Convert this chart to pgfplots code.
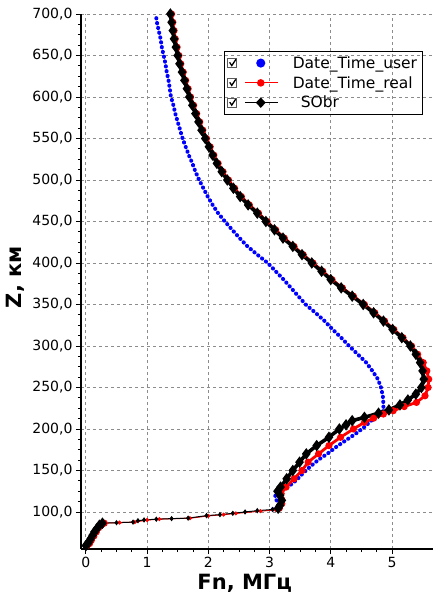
\documentclass[border=0pt]{standalone}
\usepackage{fontspec}
\setmainfont{DejaVu Sans}
\usepackage{pgfplots}
\pgfplotsset{compat=1.18}
\newcommand\chkbox{%
  \draw[solid, gray!70!black, line width=0.6pt, fill=white] (0pt,-4.5pt) rectangle (9pt,4.5pt);
  \draw[solid, black, line width=1.3pt] (2pt,0.5pt) -- (4pt,-2.5pt) -- (8pt,3.5pt);
  \path (61pt,0pt);}
\begin{document}
\begin{tikzpicture}
\begin{axis}[
  name=ax, scale only axis, width=352pt, height=535pt,
  xmin=-0.08, xmax=5.67, ymin=55.4, ymax=700,
  axis x line*=bottom, axis y line*=left,
  axis line style={line width=2.4pt},
  xtick={0,1,2,3,4,5}, ytick={100,150,...,700},
  minor x tick num=3, minor y tick num=3,
  tick align=outside,
  major tick length=5pt, minor tick length=3pt,
  every tick/.style={black, line width=0.8pt},
  grid=major,
  major grid style={gray!90, line width=0.9pt, dash pattern=on 3pt off 3pt},
  tick label style={font=\fontsize{14}{16}\selectfont},
  /pgf/number format/assume math mode=true,
  yticklabel style={/pgf/number format/fixed, /pgf/number format/fixed zerofill,
    /pgf/number format/precision=1, /pgf/number format/use comma},
  xlabel={Fn, МГц}, ylabel={Z, км},
  label style={font=\bfseries\fontsize{21}{24}\selectfont},
  xlabel style={at={(axis description cs:0.465,0)}, anchor=north, yshift=-22pt},
  ylabel style={at={(axis description cs:-0.15,0.508)}, anchor=south},
  legend style={at={(axis description cs:0.406,0.931)}, anchor=north west,
    draw=black, line width=1.1pt, fill=none, font=\fontsize{15.5}{18}\selectfont,
    row sep=2.5pt, inner xsep=3pt, inner ysep=3pt},
  legend cell align=left,
]
% Date_Time_user (blue)
\addplot[blue, line width=4pt, line cap=round, dash pattern=on 0.3pt off 4.6pt,
  legend image code/.code={\chkbox \fill[solid, blue] (33pt,0pt) circle (2.4pt);}]
coordinates {
(3.05,103)(3.17,107)(3.12,113)(3.09,119)(3.14,124)(3.24,128)(3.37,134)(3.46,140)
(3.55,147)(3.67,155)(3.80,163)(3.96,171)(4.10,179)(4.26,187)(4.42,195)(4.56,203)
(4.66,210)(4.77,216)(4.86,222)(4.86,230)(4.85,240)(4.82,250)(4.77,260)(4.68,270)
(4.58,280)(4.44,290)(4.30,300)(4.17,310)(4.03,320)(3.90,330)(3.75,340)(3.59,350)
(3.47,360)(3.35,370)(3.23,380)(3.10,390)(2.97,400)(2.80,410)(2.64,420)(2.51,430)
(2.39,440)(2.27,450)(2.16,460)(2.07,470)(1.99,480)(1.92,490)(1.85,500)(1.79,510)
(1.74,520)(1.68,530)(1.63,540)(1.58,550)(1.54,560)(1.50,570)(1.46,580)(1.43,590)
(1.39,600)(1.37,610)(1.35,620)(1.32,630)(1.30,640)(1.27,650)(1.24,660)(1.22,670)
(1.19,680)(1.16,690)(1.14,700)};
\addlegendentry{Date\_Time\_user}
% Date_Time_real (red)
\addplot[red, line width=2.8pt, mark=*, mark size=2.1pt, forget plot]
coordinates {(0.02,59.5)(0.06,62)(0.09,66)(0.13,71)(0.17,76)(0.21,81)(0.25,84)(0.30,86.5)};
\addplot[red, line width=1pt, mark=*, mark size=1.5pt, forget plot]
coordinates {(0.30,86.5)(0.55,87.2)(0.80,87.8)(1.00,90.3)(1.20,91.4)(1.70,92.5)
(2.00,95.3)(2.25,96.8)(2.45,98.3)(2.85,101.0)(3.10,102.5)(3.16,104.5)};
\addplot[red, line width=2.8pt, mark=*, mark size=2.1pt,
  legend image code/.code={\chkbox \draw[red, line width=0.8pt] (17pt,0pt) -- (50pt,0pt);
    \fill[red] (33pt,0pt) circle (2.3pt);}]
coordinates {
(3.16,104.5)(3.20,110)(3.20,115)(3.19,122)(3.27,130)(3.40,140)(3.53,150)(3.63,160)
(3.80,170)(3.97,180)(4.16,190)(4.37,200)(4.55,208)(4.70,213)(4.86,218)(5.02,222)
(5.20,227)(5.40,232)(5.54,240)(5.59,250)(5.60,260)(5.57,270)(5.51,280)(5.42,290)
(5.32,300)(5.18,310)(5.03,320)(4.88,330)(4.72,340)(4.55,350)(4.37,360)(4.19,370)
(4.02,380)(3.87,390)(3.71,400)(3.55,410)(3.40,420)(3.24,430)(3.10,440)(2.96,450)
(2.82,460)(2.67,470)(2.54,480)(2.43,490)(2.33,500)(2.24,510)(2.16,520)(2.09,530)
(2.03,540)(1.97,550)(1.91,560)(1.86,570)(1.81,580)(1.76,590)(1.71,600)(1.67,610)
(1.63,620)(1.59,630)(1.55,640)(1.52,650)(1.49,660)(1.46,670)(1.44,680)(1.42,690)
(1.40,700)};
\addlegendentry{Date\_Time\_real}
% SObr (black)
\addplot[black, line width=3.6pt, mark=diamond*, mark size=2.8pt, forget plot]
coordinates {(0.00,59.5)(0.02,61)(0.05,64)(0.08,68)(0.11,72)(0.14,76)(0.18,80)(0.22,84)(0.27,86.5)};
\addplot[black, line width=1pt, mark=diamond*, mark size=1.9pt, forget plot]
coordinates {(0.27,86.5)(0.50,87.1)(0.77,87.8)(0.85,89.5)(0.95,90.4)(1.15,91.3)(1.40,92.0)
(1.67,92.6)(1.97,95.6)(2.19,96.8)(2.40,98.4)(2.60,100.0)(2.80,101.6)(3.05,103)(3.14,104.5)};
\addplot[black, line width=3.6pt, mark=diamond*, mark size=2.8pt,
  legend image code/.code={\chkbox \draw[black, line width=0.8pt] (17pt,0pt) -- (50pt,0pt);
    \fill[black] (30.5pt,0pt) -- (33pt,2.6pt) -- (35.5pt,0pt) -- (33pt,-2.6pt) -- cycle;}]
coordinates {
(3.14,104.5)(3.17,108)(3.20,114)(3.17,120)(3.13,125)(3.18,130)(3.28,140)(3.38,150)
(3.49,160)(3.60,170)(3.77,180)(3.97,190)(4.14,200)(4.25,205)(4.35,210)(4.55,214)
(4.78,219)(4.95,223)(5.13,229)(5.26,235)(5.39,242)(5.48,250)(5.52,260)(5.50,270)
(5.46,280)(5.39,290)(5.30,300)(5.16,310)(5.01,320)(4.86,330)(4.70,340)(4.53,350)
(4.35,360)(4.17,370)(4.00,380)(3.85,390)(3.69,400)(3.53,410)(3.38,420)(3.22,430)
(3.08,440)(2.94,450)(2.80,460)(2.65,470)(2.52,480)(2.41,490)(2.31,500)(2.22,510)
(2.14,520)(2.07,530)(2.01,540)(1.95,550)(1.89,560)(1.84,570)(1.79,580)(1.74,590)
(1.69,600)(1.65,610)(1.61,620)(1.57,630)(1.53,640)(1.50,650)(1.47,660)(1.44,670)
(1.42,680)(1.40,690)(1.38,700)};
\addlegendentry{\hspace{8pt}SObr}
\end{axis}
\pgfresetboundingbox
\path[use as bounding box] ([xshift=-81pt,yshift=-52pt]ax.south west) rectangle ([yshift=14pt]ax.north east);
\end{tikzpicture}
\end{document}
